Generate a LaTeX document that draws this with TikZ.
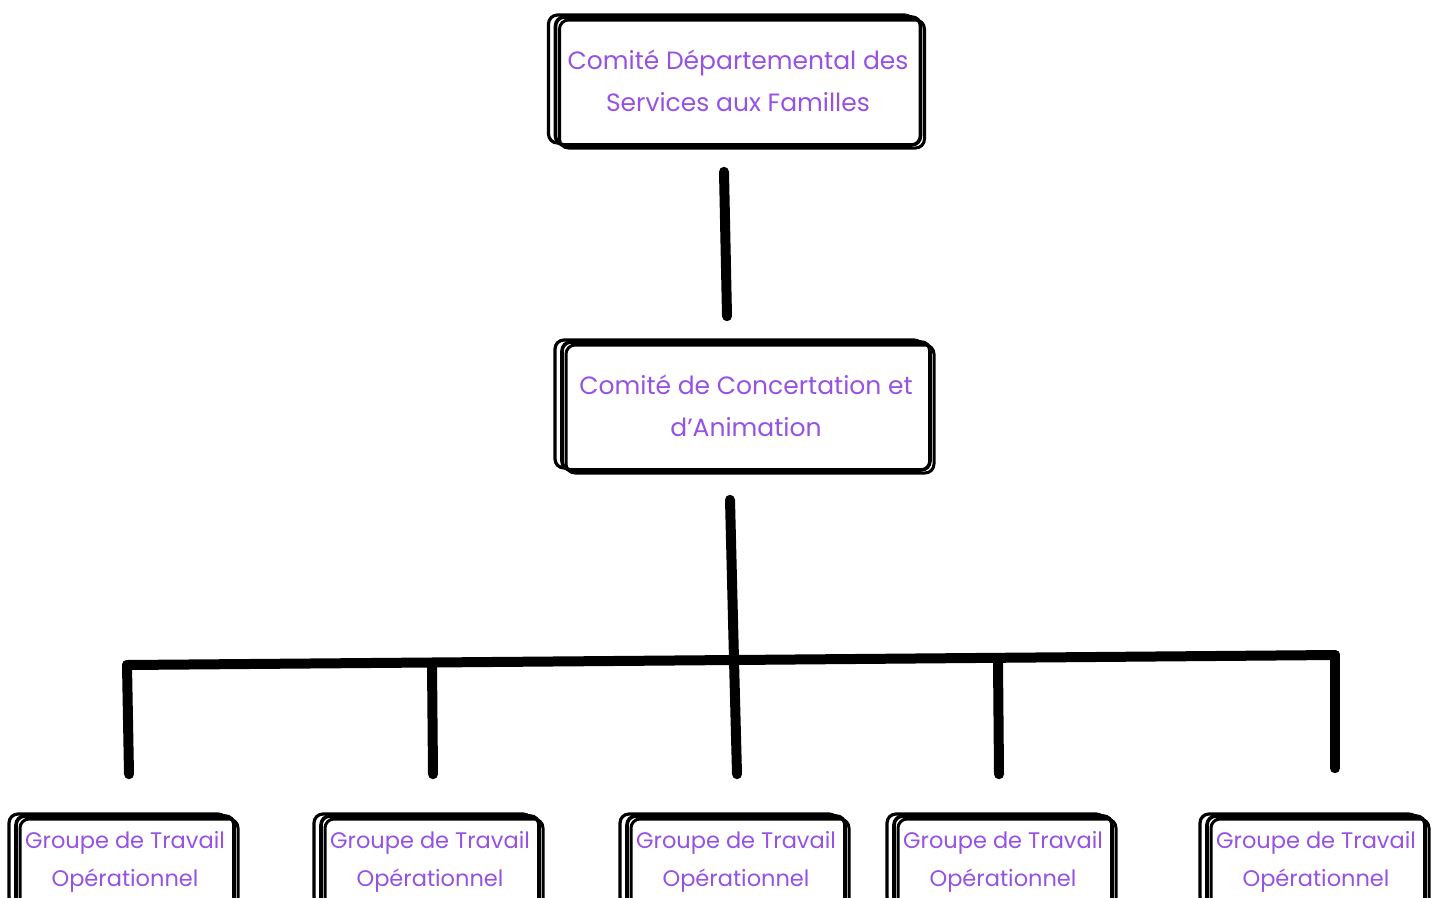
\documentclass[tikz,border=0pt]{standalone}
\usepackage{fontspec}
\setmainfont{Poppins}
\usetikzlibrary{positioning, calc}

\definecolor{labelpurple}{RGB}{150,82,226}

\tikzset{
  sketchbox/.style={draw=black, line width=3.6pt, rounded corners=9pt, fill=white,
    text=labelpurple, align=center, inner sep=0pt, font=\fontsize{25}{42}\selectfont,
    preaction={draw, line width=3.2pt, rounded corners=12pt,
      transform canvas={shift={(-7pt,2pt)}}},
    postaction={draw, line width=3pt, rounded corners=7pt,
      transform canvas={shift={(4pt,-3pt)}}}},
  smallbox/.style={sketchbox, font=\fontsize{22.5}{38}\selectfont,
    minimum width=218pt, minimum height=92pt},
  link/.style={line width=10pt, line cap=round, line join=round}
}

\begin{document}
\begin{tikzpicture}[x=1pt, y=-1pt]
    \useasboundingbox (0,0) rectangle (1442,897);

    % Comites
    \node[sketchbox, minimum width=365pt, minimum height=128pt] (cdsf) at (738,81)
        {Comité Départemental des\\Services aux Familles};
    \node[sketchbox, minimum width=368pt, minimum height=128pt] (cca) at (746,406)
        {Comité de Concertation et\\d’Animation};

    % Groupes de travail
    \node[smallbox] (gto1) at (125,862) {Groupe de Travail\\Opérationnel};
    \node[smallbox] (gto2) at (430,862) {Groupe de Travail\\Opérationnel};
    \node[smallbox] (gto3) at (736,862) {Groupe de Travail\\Opérationnel};
    \node[smallbox] (gto4) at (1003,862) {Groupe de Travail\\Opérationnel};
    \node[smallbox] (gto5) at (1316,862) {Groupe de Travail\\Opérationnel};

    % Points on the bar
    \coordinate (barL) at (127,665);
    \coordinate (barM) at (734,660);
    \coordinate (barR) at (1335,655);
    \coordinate (bar2) at (432,664);
    \coordinate (bar4) at (998,661);

    % Links
    \draw[link] ([shift={(-14,25)}]cdsf.south) -- ([shift={(-19,-24)}]cca.north);
    \draw[link] ([shift={(-16,28)}]cca.south) -- (barM);
    \draw[link] (barL) -- (barM) -- (barR);
    \draw[link] (barL) -- ([shift={(4,-40)}]gto1.north);
    \draw[link] (bar2) -- ([shift={(3,-40)}]gto2.north);
    \draw[link] (barM) -- ([shift={(1,-40)}]gto3.north);
    \draw[link] (bar4) -- ([shift={(-4,-40)}]gto4.north);
    \draw[link] (barR) -- ([shift={(19,-46)}]gto5.north);
\end{tikzpicture}
\end{document}
